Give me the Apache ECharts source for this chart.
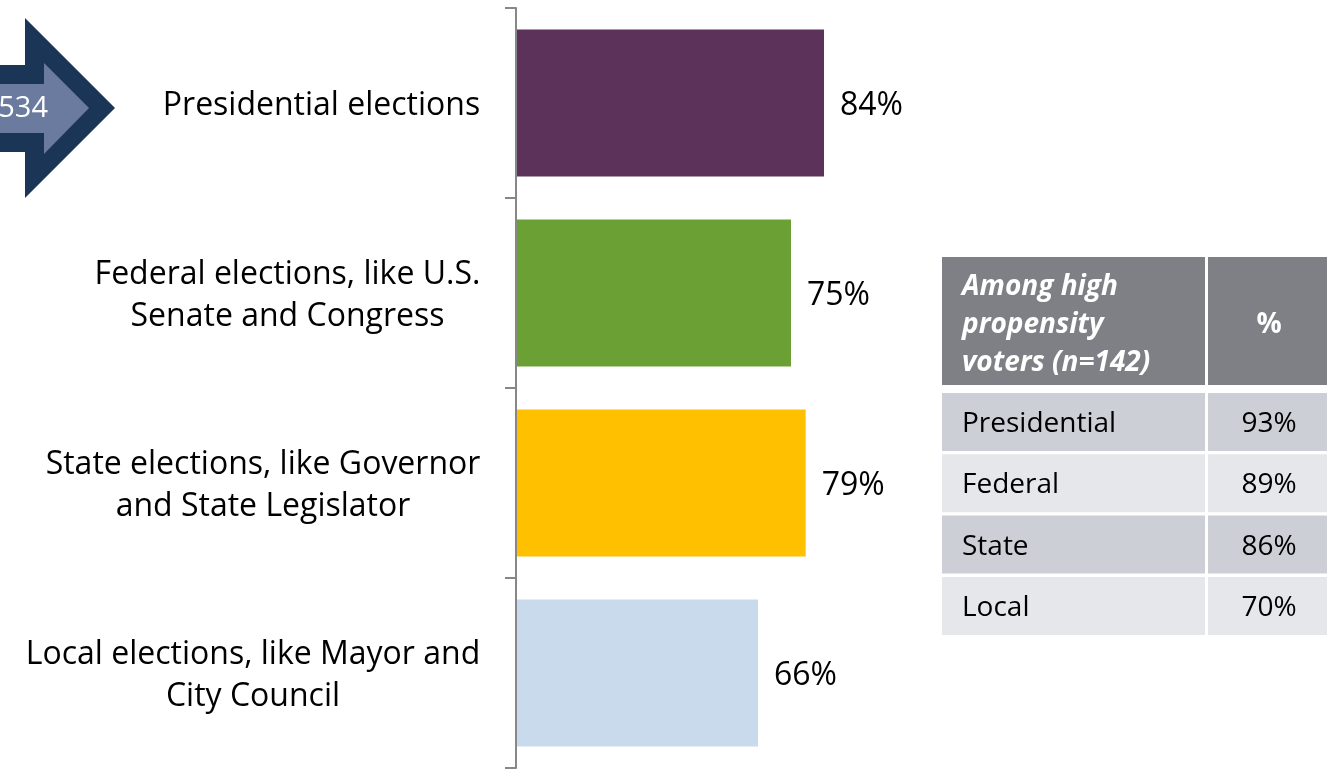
<!DOCTYPE html>
<html>
<head>
<meta charset="utf-8">
<script src="https://cdn.jsdelivr.net/npm/echarts@6/dist/echarts.min.js"></script>
<style>
  html, body { margin: 0; padding: 0; background: #fff; }
  #chart { width: 1327px; height: 770px; }
</style>
</head>
<body>
<div id="chart"></div>
<script>
// Election types and the share who vote in each
const categories = [
  'Presidential elections',
  'Federal elections, like U.S.\nSenate and Congress',
  'State elections, like Governor\nand State Legislator',
  'Local elections, like Mayor and\nCity Council'
];
const values = [84, 75, 79, 66];
const barColors = ['#5c325a', '#6ba134', '#ffc000', '#c9daec'];

// Side table: high propensity voters
const tableHead = ['Among high\npropensity\nvoters (n=142)', '%'];
const tableLabels = ['Presidential', 'Federal', 'State', 'Local'];
const tableValues = [93, 89, 86, 70];

// Sample size shown in the arrow
const arrowText = '534';

const FONT = '"Open Sans", sans-serif';
const FS = 32;      // axis and value labels
const TFS = 28;     // table text
const LH = 42;

// width of the widest line of each label, so lines can be centred on each other
const ctx = document.createElement('canvas').getContext('2d');
ctx.font = FS + 'px "Open Sans"';
const rich = {};
categories.forEach((c, i) => {
  const w = Math.max(...c.split('\n').map(s => ctx.measureText(s).width));
  rich['c' + i] = { width: Math.ceil(w) + 1, align: 'center', fontSize: FS, fontFamily: FONT, lineHeight: LH, color: '#000' };
});

const chart = echarts.init(document.getElementById('chart'), null, { renderer: 'canvas' });

// Table geometry
const T = { x: 942, col1: 263, gap: 3, col2: 122, headTop: 257, headH: 128, rowTop: 393, rowStep: 61.3, rowH: 58 };
const rowColors = ['#cdcfd7', '#e6e7eb'];
const graphic = [];

// arrow
graphic.push({
  type: 'polygon', shape: { points: [[-10, 65], [25, 65], [25, 18], [115, 108], [25, 198], [25, 152], [-10, 152]] },
  style: { fill: '#1b3556' }
});
graphic.push({
  type: 'polygon', shape: { points: [[-10, 84], [44, 84], [44, 63], [89, 108], [44, 154], [44, 133], [-10, 133]] },
  style: { fill: '#6b7a9f' }
});
graphic.push({
  type: 'text', x: 48, y: 109,
  style: { text: arrowText, fill: '#fff', font: '29px ' + FONT, align: 'right', verticalAlign: 'middle' }
});

// table header
graphic.push({ type: 'rect', shape: { x: T.x, y: T.headTop, width: T.col1, height: T.headH }, style: { fill: '#7f8086' } });
graphic.push({ type: 'rect', shape: { x: T.x + T.col1 + T.gap, y: T.headTop, width: T.col2, height: T.headH }, style: { fill: '#7f8086' } });
graphic.push({
  type: 'text', x: T.x + 20, y: T.headTop + T.headH / 2 + 4,
  style: { text: tableHead[0], fill: '#fff', font: 'italic bold ' + TFS + 'px ' + FONT, lineHeight: 38, align: 'left', verticalAlign: 'middle' }
});
graphic.push({
  type: 'text', x: T.x + T.col1 + T.gap + T.col2 / 2, y: T.headTop + T.headH / 2 + 4,
  style: { text: tableHead[1], fill: '#fff', font: 'bold ' + TFS + 'px ' + FONT, align: 'center', verticalAlign: 'middle' }
});

// table rows
tableLabels.forEach((lab, i) => {
  const y = T.rowTop + i * T.rowStep;
  const fill = rowColors[i % 2];
  graphic.push({ type: 'rect', shape: { x: T.x, y: y, width: T.col1, height: T.rowH }, style: { fill: fill } });
  graphic.push({ type: 'rect', shape: { x: T.x + T.col1 + T.gap, y: y, width: T.col2, height: T.rowH }, style: { fill: fill } });
  graphic.push({
    type: 'text', x: T.x + 20, y: y + T.rowH / 2 + 2,
    style: { text: lab, fill: '#000', font: TFS + 'px ' + FONT, align: 'left', verticalAlign: 'middle' }
  });
  graphic.push({
    type: 'text', x: T.x + T.col1 + T.gap + T.col2 / 2, y: y + T.rowH / 2 + 2,
    style: { text: tableValues[i] + '%', fill: '#000', font: TFS + 'px ' + FONT, align: 'center', verticalAlign: 'middle' }
  });
});

chart.setOption({
  animation: false,
  grid: { left: 516, top: 8, bottom: 2, width: 366.67 },
  xAxis: { type: 'value', min: 0, max: 100, show: false },
  yAxis: {
    type: 'category',
    data: categories,
    inverse: true,
    z: 5,
    axisLine: { show: true, lineStyle: { color: '#878787', width: 2 } },
    axisTick: { show: true, inside: false, alignWithLabel: false, length: 11, lineStyle: { color: '#878787', width: 2 } },
    axisLabel: {
      margin: 35,
      align: 'right',
      fontSize: FS,
      fontFamily: FONT,
      lineHeight: LH,
      color: '#000',
      padding: [6, 0, 0, 0],
      formatter: (v, i) => '{c' + i + '|' + v + '}',
      rich: rich
    }
  },
  series: [{
    type: 'bar',
    data: values.map((v, i) => ({ value: v, itemStyle: { color: barColors[i] } })),
    barCategoryGap: '22.6%',
    z: 1,
    label: {
      show: true,
      position: 'right',
      distance: 16,
      offset: [0, 3],
      formatter: '{c}%',
      fontSize: FS,
      fontFamily: FONT,
      color: '#000'
    }
  }],
  graphic: graphic
});
</script>
</body>
</html>
